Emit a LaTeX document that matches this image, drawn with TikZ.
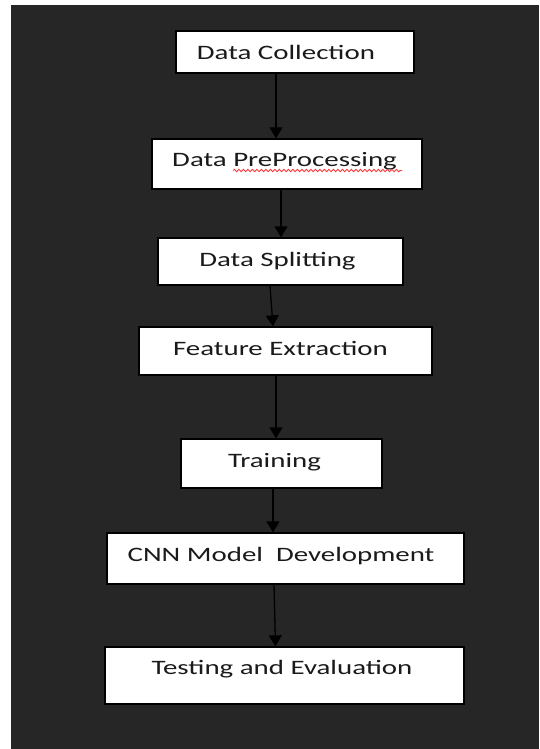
\documentclass[tikz,border=0pt]{standalone}
\usepackage{fontspec}
\setmainfont{Carlito}
\usetikzlibrary{arrows.meta,decorations.pathmorphing}
\definecolor{bgdark}{HTML}{262626}
\definecolor{txtcol}{HTML}{1A1A1A}
\tikzset{
  box/.style={draw=black, fill=white, line width=1.3pt, rectangle, inner sep=0pt},
  txt/.style={anchor=base, inner sep=0pt, text=txtcol, font=\fontsize{20.5}{24}\selectfont},
  arr/.style={draw=black, line width=1.3pt, -{Triangle[width=13pt,length=11pt]}},
}
\newcommand{\wide}[1]{\scalebox{1.41}[1]{#1}}
\begin{document}
\begin{tikzpicture}[x=1pt,y=-1pt]
\useasboundingbox (0,0) rectangle (539,749);
\fill[white] (0,0) rectangle (539,749);
\fill[bgdark] (11,5) rectangle (539,749);

\node[box, minimum width=238pt, minimum height=42pt] (b1) at (295,52) {};
\node[box, minimum width=270pt, minimum height=50pt] (b2) at (287,164) {};
\node[box, minimum width=245pt, minimum height=47pt] (b3) at (280.5,261.5) {};
\node[box, minimum width=293pt, minimum height=48pt] (b4) at (285.5,351) {};
\node[box, minimum width=201pt, minimum height=49pt] (b5) at (281.5,463.5) {};
\node[box, minimum width=357pt, minimum height=51pt] (b6) at (285.5,558.5) {};
\node[box, minimum width=359pt, minimum height=57pt] (b7) at (284.5,675.5) {};

\node[txt] (t1) at (286,59.3) {\wide{Data Collection}};
\node[txt] (t2) at (284.5,166.7) {\wide{Data PreProcessing}};
\node[txt] (t3) at (277.5,266.7) {\wide{Data Splitting}};
\node[txt] (t4) at (280.5,355.7) {\wide{Feature Extraction}};
\node[txt] (t5) at (274.5,467.7) {\wide{Training}};
\node[txt] (t6) at (281,561) {\wide{CNN Model\ \ Development}};
\node[txt] (t7) at (282,674.3) {\wide{Testing and Evaluation}};

\coordinate (sq1) at (233,170.5);
\coordinate (sq2) at (402,170.5);
\draw[red!80!white, line width=0.8pt, decorate, decoration={snake, segment length=4.5pt, amplitude=1.2pt}] (sq1) -- (sq2);

\draw[arr] ([xshift=-19pt]b1.south) -- ([xshift=-11pt]b2.north);
\draw[arr] ([xshift=-6pt]b2.south) -- ([xshift=0.5pt]b3.north);
\draw[arr] ([xshift=-10.5pt]b3.south) -- ([xshift=-12.5pt]b4.north);
\draw[arr] ([xshift=-9.5pt]b4.south) -- ([xshift=-5.5pt]b5.north);
\draw[arr] ([xshift=-8.5pt]b5.south) -- ([xshift=-12.5pt]b6.north);
\draw[arr] ([xshift=-11.5pt]b6.south) -- ([xshift=-9pt]b7.north);
\end{tikzpicture}
\end{document}
